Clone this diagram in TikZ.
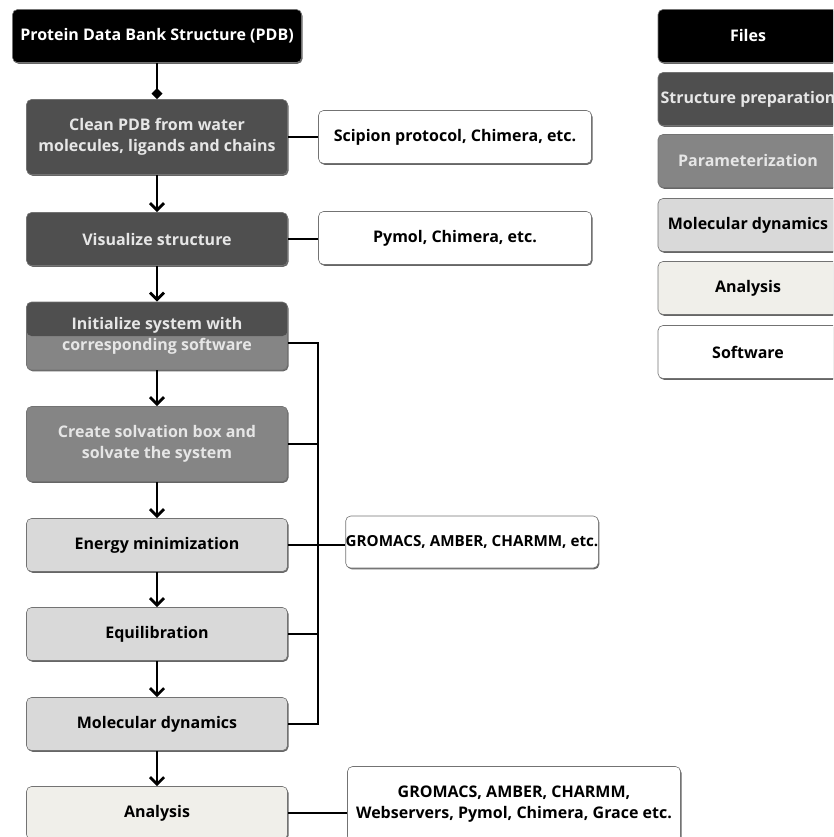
\documentclass[tikz,border=0pt]{standalone}
\usepackage{fontspec}
\setmainfont{Open Sans}
\usepackage{xcolor}
\usepackage{tikz}
\usetikzlibrary{arrows.meta,shadows}

\definecolor{prepgray}{HTML}{4F4F4F}
\definecolor{paramgray}{HTML}{858585}
\definecolor{dyngray}{HTML}{D9D9D9}
\definecolor{anacream}{HTML}{F0EFEA}
\definecolor{paletext}{HTML}{E6E6E6}

\begin{document}
\begin{tikzpicture}[x=1pt,y=-1pt,
    box/.style={rounded corners=5pt, draw=black!55, line width=0.6pt, align=center,
      inner sep=1pt, font=\fontsize{16}{21}\selectfont\bfseries,
      drop shadow={shadow xshift=1pt, shadow yshift=-1.3pt, opacity=0.75, fill=black!80}},
    stepcol/.style={box, minimum width=261pt, minimum height=53pt},
    files/.style={fill=black, text=white},
    prep/.style={fill=prepgray, text=paletext},
    param/.style={fill=paramgray, text=paletext},
    dyn/.style={fill=dyngray, text=black},
    ana/.style={fill=anacream, text=black},
    soft/.style={box, fill=white, text=black, minimum height=53pt},
    legend/.style={box, minimum width=180pt, minimum height=53pt},
    flow/.style={line width=2.8pt, -{Straight Barb[length=7pt,width=14pt]}},
    link/.style={line width=2.8pt}]
    \useasboundingbox (0,0) rectangle (833,837);
    \clip (0,0) rectangle (833,837);

    % main column
    \node [box, files, minimum width=289pt, minimum height=53pt] (pdb) at (157,36) {Protein Data Bank Structure (PDB)};
    \node [stepcol, prep, minimum height=75pt] (clean) at (157,137) {Clean PDB from water\\molecules, ligands and chains};
    \node [stepcol, prep] (visual) at (157,239) {Visualize structure};
    \node [stepcol, param, minimum height=68pt,
      path picture={\fill[prepgray] (path picture bounding box.north west) rectangle (path picture bounding box.east);}]
      (init) at (157,336) {Initialize system with\\corresponding software};
    \node [stepcol, param, minimum height=75pt] (solv) at (157,444) {Create solvation box and\\solvate the system};
    \node [stepcol, dyn] (energy) at (157,545) {Energy minimization};
    \node [stepcol, dyn] (equil) at (157,634) {Equilibration};
    \node [stepcol, dyn] (md) at (157,724) {Molecular dynamics};
    \node [stepcol, ana] (analysis) at (157,813) {Analysis};

    % software
    \node [soft, minimum width=273pt] (scipion) at (455,137) {Scipion protocol, Chimera, etc.};
    \node [soft, minimum width=273pt] (pymol) at (455,238) {Pymol, Chimera, etc.};
    \node [soft, minimum width=249pt, minimum height=52pt, inner xsep=0pt,
      font=\fontsize{15.2}{20}\selectfont\bfseries] (gromacs) at (472,542) {GROMACS, AMBER, CHARMM, etc.};
    \node [soft, minimum width=333pt, minimum height=75pt] (tools) at (514,804) {GROMACS, AMBER, CHARMM,\\Webservers, Pymol, Chimera, Grace etc.};

    % legend
    \node [legend, files] (legfiles) at (748,36) {Files};
    \node [legend, prep] (legprep) at (748,99) {Structure preparation};
    \node [legend, param] (legparam) at (748,161) {Parameterization};
    \node [legend, dyn] (legdyn) at (748,225) {Molecular dynamics};
    \node [legend, ana] (legana) at (748,288) {Analysis};
    \node [legend, fill=white, text=black] (legsoft) at (748,352) {Software};

    % arrows
    \draw [line width=2.8pt, -{Diamond[length=11pt,width=11pt]}] (pdb) -- (clean);
    \draw [flow] (clean) -- (visual);
    \draw [flow] (visual) -- (init);
    \draw [flow] (init) -- (solv);
    \draw [flow] (solv) -- (energy);
    \draw [flow] (energy) -- (equil);
    \draw [flow] (equil) -- (md);
    \draw [flow] (md) -- (analysis);

    % software links
    \coordinate (bus) at (318,0);
    \draw [link] (clean.east) -- (clean.east -| scipion.west);
    \draw [link] (visual.east) -- (visual.east -| pymol.west);
    \draw [link] ([yshift=-7pt]init.east) -| (md.east -| bus) -- (md.east);
    \draw [link] (solv.east) -- (solv.east -| bus);
    \draw [link] (equil.east) -- (equil.east -| bus);
    \draw [link] (energy.east) -- (energy.east -| gromacs.west);
    \draw [link] (analysis.east) -- (analysis.east -| tools.west);
\end{tikzpicture}
\end{document}
